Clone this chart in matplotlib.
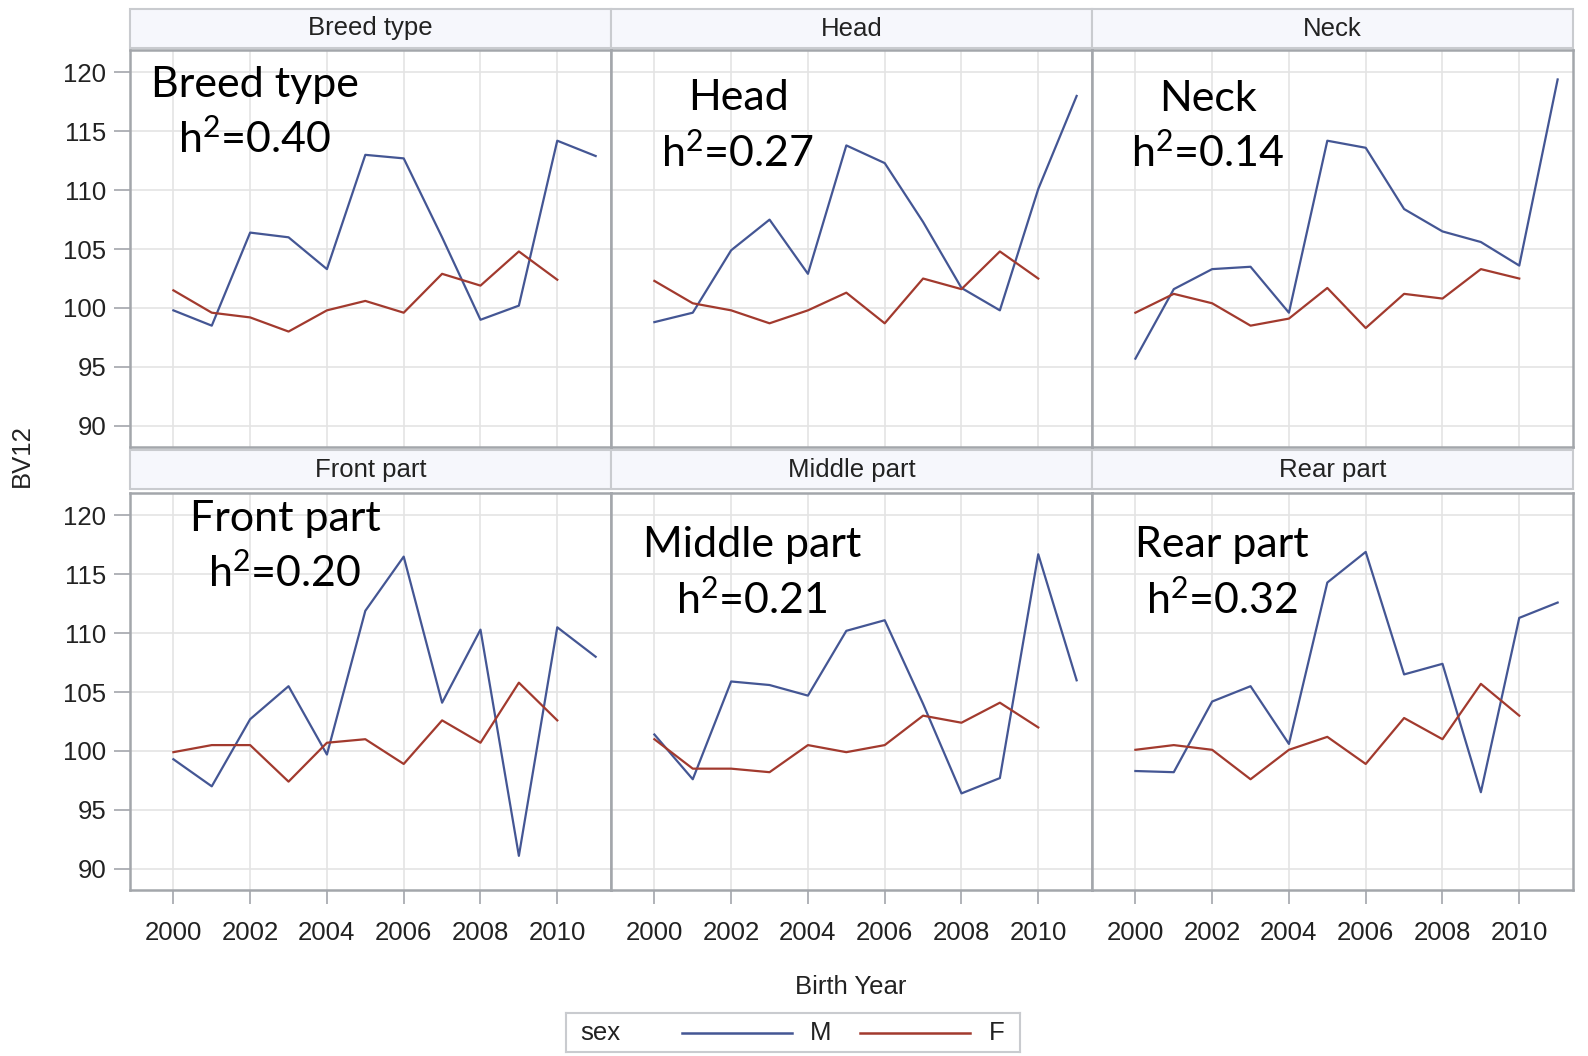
import matplotlib
matplotlib.use("Agg")
import matplotlib.pyplot as plt
from matplotlib.patches import Rectangle

# ============================================================
# Data: BV12 by birth year and sex, six traits
# ============================================================

years_m = [2000, 2001, 2002, 2003, 2004, 2005, 2006, 2007, 2008, 2009, 2010, 2011]
years_f = [2000, 2001, 2002, 2003, 2004, 2005, 2006, 2007, 2008, 2009, 2010]

panel_titles = ["Breed type", "Head", "Neck", "Front part", "Middle part", "Rear part"]
h2_values = ["0.40", "0.27", "0.14", "0.20", "0.21", "0.32"]

breed_m = [99.8, 98.5, 106.4, 106.0, 103.3, 113.0, 112.7, 106.0, 99.0, 100.2, 114.2, 112.9]
breed_f = [101.5, 99.6, 99.2, 98.0, 99.8, 100.6, 99.6, 102.9, 101.9, 104.8, 102.4]

head_m = [98.8, 99.6, 104.9, 107.5, 102.9, 113.8, 112.3, 107.3, 101.7, 99.8, 110.1, 118.0]
head_f = [102.3, 100.4, 99.8, 98.7, 99.8, 101.3, 98.7, 102.5, 101.6, 104.8, 102.5]

neck_m = [95.7, 101.6, 103.3, 103.5, 99.6, 114.2, 113.6, 108.4, 106.5, 105.6, 103.6, 119.4]
neck_f = [99.6, 101.2, 100.4, 98.5, 99.1, 101.7, 98.3, 101.2, 100.8, 103.3, 102.5]

front_m = [99.3, 97.0, 102.7, 105.5, 99.7, 111.9, 116.5, 104.1, 110.3, 91.1, 110.5, 108.0]
front_f = [99.9, 100.5, 100.5, 97.4, 100.7, 101.0, 98.9, 102.6, 100.7, 105.8, 102.6]

middle_m = [101.4, 97.6, 105.9, 105.6, 104.7, 110.2, 111.1, 104.0, 96.4, 97.7, 116.7, 106.0]
middle_f = [101.0, 98.5, 98.5, 98.2, 100.5, 99.9, 100.5, 103.0, 102.4, 104.1, 102.0]

rear_m = [98.3, 98.2, 104.2, 105.5, 100.6, 114.3, 116.9, 106.5, 107.4, 96.5, 111.3, 112.6]
rear_f = [100.1, 100.5, 100.1, 97.6, 100.1, 101.2, 98.9, 102.8, 101.0, 105.7, 103.0]

series_m = [breed_m, head_m, neck_m, front_m, middle_m, rear_m]
series_f = [breed_f, head_f, neck_f, front_f, middle_f, rear_f]

x_ticks = [2000, 2002, 2004, 2006, 2008, 2010]
y_ticks = [90, 95, 100, 105, 110, 115, 120]

# ============================================================
# Style
# ============================================================

W, H = 1588, 1056
COLOR_M = "#445694"
COLOR_F = "#A23A2E"
SPINE = "#a3a6ab"
GRID = "#e4e4e4"
TEXT = "#222222"
SAS_FONT = "Liberation Sans"
NOTE_FONT = "Lato"

plt.rcParams["font.family"] = [SAS_FONT, "DejaVu Sans"]
plt.rcParams["mathtext.fontset"] = "custom"
plt.rcParams["mathtext.rm"] = NOTE_FONT
plt.rcParams["mathtext.it"] = NOTE_FONT + ":italic"

fig = plt.figure(figsize=(W / 100, H / 100), dpi=100)


def fx(px):
    return px / W


def fy(py):
    return 1 - py / H


col_left = [130, 611, 1092]
panel_w = 481
row_top = [50, 493]
panel_h = 397
head_top = [9, 450]
head_h = 39

# positions of the big annotations (pixel center x, baseline of line 1 and 2)
note_pos = [
    (255, 97, 153),
    (738, 110, 167),
    (1208, 111, 167),
    (285, 531, 587),
    (752, 557, 614),
    (1222, 557, 614),
]

for i in range(6):
    r, c = divmod(i, 3)
    left = col_left[c]
    top = row_top[r]
    ax = fig.add_axes([fx(left), fy(top + panel_h), panel_w / W, panel_h / H])

    ax.plot(years_m, series_m[i], color=COLOR_M, lw=1.6, zorder=3)
    ax.plot(years_f, series_f[i], color=COLOR_F, lw=1.6, zorder=3)

    ax.set_xlim(1998.87, 2011.4)
    ax.set_ylim(88.2, 121.9)
    ax.set_xticks(x_ticks)
    ax.set_yticks(y_ticks)
    ax.grid(True, color=GRID, lw=1.2, zorder=0)
    ax.set_axisbelow(True)

    for s in ax.spines.values():
        s.set_color(SPINE)
        s.set_linewidth(1.8)

    ax.tick_params(axis="y", length=11.5, width=1.2, color=SPINE, pad=5.5,
                   labelsize=18.5, labelcolor=TEXT, left=(c == 0), labelleft=(c == 0))
    ax.tick_params(axis="x", length=10, width=1.2, color=SPINE, pad=12,
                   labelsize=18.5, labelcolor=TEXT, bottom=(r == 1), labelbottom=(r == 1))

    # panel header strip
    fig.patches.append(Rectangle((fx(left), fy(head_top[r] + head_h)), panel_w / W, head_h / H,
                                 transform=fig.transFigure, facecolor="#f6f7fc",
                                 edgecolor="#c9cbcf", lw=1.5, zorder=1))
    fig.text(fx(left + panel_w / 2), fy(head_top[r] + head_h / 2), panel_titles[i],
             ha="center", va="center", fontsize=18.5, color=TEXT)

    # big trait / heritability labels
    cx, b1, b2 = note_pos[i]
    fig.text(fx(cx), fy(b1), panel_titles[i], ha="center", va="baseline",
             fontsize=31, family=NOTE_FONT, color="black", zorder=5)
    fig.text(fx(cx), fy(b2), r"h$^{\mathregular{2}}$=" + h2_values[i], ha="center",
             va="baseline", fontsize=31, family=NOTE_FONT, color="black", zorder=5)

# axis titles
fig.text(fx(22), fy(456), "BV12", rotation=90, ha="center", va="center",
         fontsize=18.5, color=TEXT)
fig.text(fx(851), fy(994), "Birth Year", ha="center", va="baseline",
         fontsize=18.5, color=TEXT)

# legend box
lax = fig.add_axes([fx(566), fy(1052), (1020 - 566) / W, (1052 - 1013) / H])
lax.set_xlim(566, 1020)
lax.set_ylim(1052, 1013)
lax.set_xticks([])
lax.set_yticks([])
for s in lax.spines.values():
    s.set_color("#c9cbcf")
    s.set_linewidth(1.5)
lax.text(580, 1033, "sex", ha="left", va="center", fontsize=18.5, color=TEXT)
lax.plot([682, 792], [1033, 1033], color=COLOR_M, lw=1.8)
lax.text(810, 1033, "M", ha="left", va="center", fontsize=18.5, color=TEXT)
lax.plot([860, 970], [1033, 1033], color=COLOR_F, lw=1.8)
lax.text(989, 1033, "F", ha="left", va="center", fontsize=18.5, color=TEXT)

fig.savefig("out.png", dpi=100)
